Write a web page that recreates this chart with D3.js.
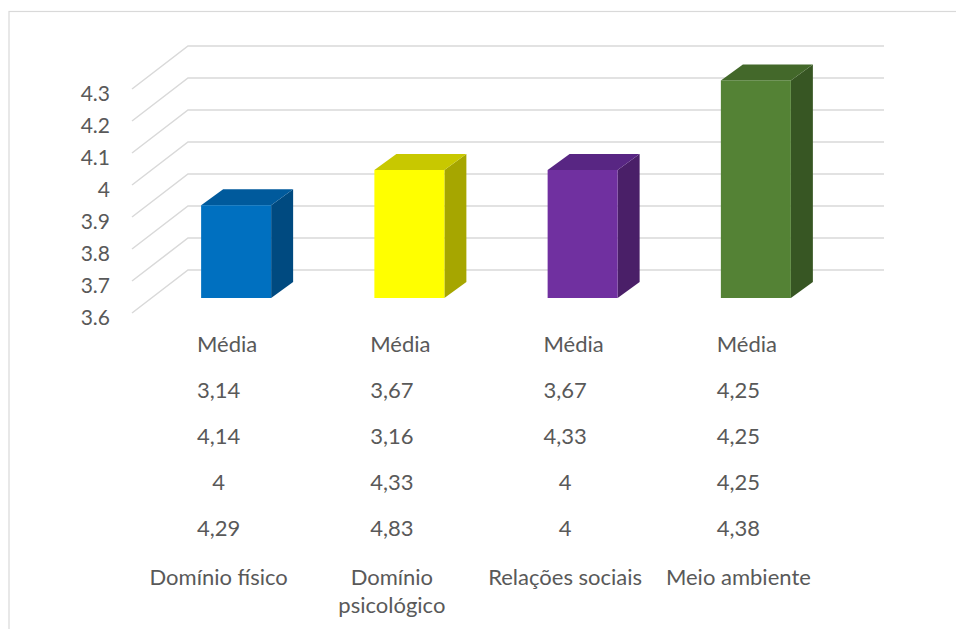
<!DOCTYPE html>
<html>
<head>
<meta charset="utf-8">
<script src="https://cdn.jsdelivr.net/npm/d3@7"></script>
<style>
  html, body { margin: 0; padding: 0; background: #fff; }
  svg { display: block; }
  text { font-family: Lato, "Open Sans", sans-serif; fill: #595959; }
</style>
</head>
<body>
<svg id="chart" width="956" height="629"></svg>
<script>
// ---- data ----
const categories = ["Domínio físico", "Domínio psicológico", "Relações sociais", "Meio ambiente"];
const means = [3.89, 4.00, 4.00, 4.28];
const rowHeader = "Média";
const row1 = [3.14, 3.67, 3.67, 4.25];
const row2 = [4.14, 3.16, 4.33, 4.25];
const row3 = [4, 4.33, 4, 4.25];
const row4 = [4.29, 4.83, 4, 4.38];
const yTicks = [3.6, 3.7, 3.8, 3.9, 4.0, 4.1, 4.2, 4.3];
const barColors = [
  {front: "#0070C0", top: "#005A9C", side: "#004A80"},
  {front: "#FFFF00", top: "#C8C800", side: "#A6A600"},
  {front: "#7030A0", top: "#582683", side: "#4A1F68"},
  {front: "#548235", top: "#43682A", side: "#375623"}
];

// ---- layout ----
const svg = d3.select("#chart");

// chart frame (cut off at right/bottom as in reference)
svg.append("rect").attr("x", 9).attr("y", 11.5).attr("width", 960).attr("height", 640)
  .attr("fill", "none").attr("stroke", "#d9d9d9").attr("stroke-width", 1.2);

// value scale on the plane of the bars' front faces
const y = d3.scaleLinear().domain([3.6, 4.3]).range([298, 74]);
// column positions (front edge of the floor)
const x = d3.scaleBand().domain(categories).range([132, 825]);

const wallDX = 56;
const frontOff = 15;   // front floor edge below bar-face plane
const backOff = 28;    // back wall above bar-face plane
const frontLeftX = 132, backLeftX = frontLeftX + wallDX, backRightX = 884;

// gridlines: back wall horizontal + left wall diagonal
const grid = svg.append("g");
yTicks.forEach(v => {
  const yb = y(v) - backOff, yf = y(v) + frontOff;
  grid.append("path")
    .attr("d", `M${frontLeftX},${yf}L${backLeftX},${yb}L${backRightX},${yb}`)
    .attr("fill", "none").attr("stroke", "#d9d9d9").attr("stroke-width", 1.5);
});

// y axis labels
const axisG = svg.append("g");
yTicks.forEach(v => {
  axisG.append("text")
    .attr("x", 110).attr("y", y(v) + frontOff + 3)
    .attr("text-anchor", "end").attr("dominant-baseline", "central")
    .attr("font-size", 21)
    .text(d3.format("")(+v.toFixed(1)));
});

// bars
const barW = 70, dX = 22, dY = -16, barShift = 17.5;
const bars = svg.append("g");
categories.forEach((c, i) => {
  const cx = x(c) + x.bandwidth() / 2 + barShift;
  const x0 = cx - barW / 2, x1 = cx + barW / 2;
  const yt = y(means[i]), yb = y(3.6);
  const col = barColors[i];
  bars.append("path")
    .attr("d", `M${x1},${yt}L${x1 + dX},${yt + dY}L${x1 + dX},${yb + dY}L${x1},${yb}Z`)
    .attr("fill", col.side);
  bars.append("path")
    .attr("d", `M${x0},${yt}L${x0 + dX},${yt + dY}L${x1 + dX},${yt + dY}L${x1},${yt}Z`)
    .attr("fill", col.top);
  bars.append("rect")
    .attr("x", x0).attr("y", yt).attr("width", barW).attr("height", yb - yt)
    .attr("fill", col.front);
});

// data table under the chart
const table = svg.append("g").attr("font-size", 22);
const rows = [row1, row2, row3, row4];
const fmt = v => String(v).replace(".", ",");
categories.forEach((c, i) => {
  const cx = x(c) + x.bandwidth() / 2;
  table.append("text").attr("x", cx + 8.5).attr("y", 343)
    .attr("text-anchor", "middle").attr("dominant-baseline", "central").text(rowHeader);
  rows.forEach((r, j) => {
    table.append("text").attr("x", cx).attr("y", 389 + j * 46)
      .attr("text-anchor", "middle").attr("dominant-baseline", "central").text(fmt(r[i]));
  });
  const t = table.append("text").attr("x", cx).attr("y", 576)
    .attr("text-anchor", "middle").attr("dominant-baseline", "central");
  const words = c.split(" ");
  let line = [];
  let tspan = t.append("tspan").attr("x", cx).attr("dy", 0);
  words.forEach(w => {
    line.push(w);
    tspan.text(line.join(" "));
    if (tspan.node().getComputedTextLength() > 168 && line.length > 1) {
      line.pop();
      tspan.text(line.join(" "));
      line = [w];
      tspan = t.append("tspan").attr("x", cx).attr("dy", 28).text(w);
    }
  });
});
</script>
</body>
</html>
